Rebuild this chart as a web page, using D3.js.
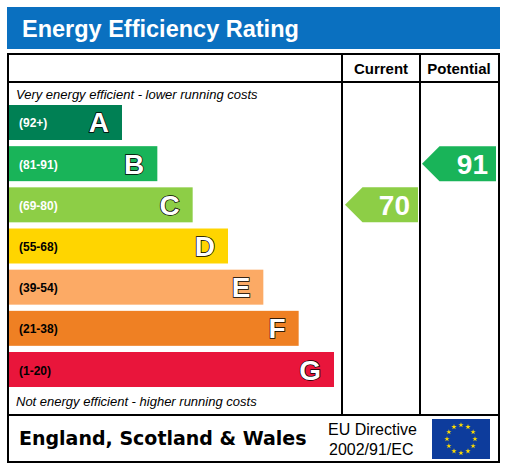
<!DOCTYPE html>
<html><head><meta charset="utf-8">
<script src="https://cdn.jsdelivr.net/npm/d3@7"></script>
<style>body{margin:0;background:#fff}</style>
</head><body><svg width="509" height="467"></svg>
<script>
var letters = ['A','B','C','D','E','F','G'];
var ranges = ['(92+)','(81-91)','(69-80)','(55-68)','(39-54)','(21-38)','(1-20)'];
var colors = ['#008054','#19b459','#8dce46','#ffd500','#fcaa65','#ef8023','#e9153b'];
var bands = [[92,100],[81,91],[69,80],[55,68],[39,54],[21,38],[1,20]];
var current = 70, potential = 91;

var svg = d3.select('svg');
var font = 'Liberation Sans, Arial, sans-serif';

// header
svg.append('rect').attr('x',7).attr('y',7).attr('width',493).attr('height',42).attr('fill','#0a70c0');
svg.append('text').attr('x',22).attr('y',37).attr('fill','#fff').attr('font-family',font)
  .attr('font-weight','bold').attr('font-size',23.5).text('Energy Efficiency Rating');

// frame
var g = svg.append('g').attr('stroke','#000').attr('stroke-width',2);
g.append('rect').attr('x',8).attr('y',54).attr('width',491).attr('height',408).attr('fill','none');
g.append('line').attr('x1',8).attr('x2',499).attr('y1',82).attr('y2',82);
g.append('line').attr('x1',8).attr('x2',499).attr('y1',415).attr('y2',415);
g.append('line').attr('x1',342).attr('x2',342).attr('y1',54).attr('y2',415);
g.append('line').attr('x1',420).attr('x2',420).attr('y1',54).attr('y2',415);

svg.append('text').attr('x',381).attr('y',74).attr('text-anchor','middle').attr('font-family',font)
  .attr('font-weight','bold').attr('font-size',15).text('Current');
svg.append('text').attr('x',459).attr('y',74).attr('text-anchor','middle').attr('font-family',font)
  .attr('font-weight','bold').attr('font-size',15).text('Potential');

svg.append('text').attr('x',16).attr('y',99).attr('font-family',font).attr('font-style','italic')
  .attr('font-size',13).text('Very energy efficient - lower running costs');
svg.append('text').attr('x',16).attr('y',406).attr('font-family',font).attr('font-style','italic')
  .attr('font-size',13).text('Not energy efficient - higher running costs');

var y = d3.scaleBand().domain(letters).range([105,387]).paddingInner(0.15).paddingOuter(0);
var w = d3.scaleLinear().domain([0,6]).range([113,325]);

var bars = svg.selectAll('.bar').data(letters).enter().append('g');
bars.append('rect').attr('x',9).attr('y',function(d){return y(d);})
  .attr('width',function(d,i){return w(i);}).attr('height',y.bandwidth())
  .attr('fill',function(d,i){return colors[i];});
bars.append('text').attr('x',19).attr('y',function(d){return y(d)+y.bandwidth()/2+5;})
  .attr('font-family',font).attr('font-weight','bold').attr('font-size',12)
  .attr('fill',function(d,i){return i<3?'#fff':'#000';}).text(function(d,i){return ranges[i];});
bars.append('text').attr('x',function(d,i){return 9+w(i)-13;}).attr('y',function(d){return y(d)+y.bandwidth()/2+10;})
  .attr('text-anchor','end').attr('font-family',font).attr('font-weight','bold').attr('font-size',28)
  .attr('fill','#fff').attr('stroke','#000').attr('stroke-width',1.5).attr('paint-order','stroke')
  .text(function(d){return d;});

function bandOf(v){ for (var i=0;i<bands.length;i++) if (v>=bands[i][0]) return i; return 6; }
function arrow(v, x0, x1){
  var i = bandOf(v), t = y(letters[i]), h = y.bandwidth();
  svg.append('path').attr('d', d3.line()([[x0,t+h/2],[x0+h/2,t],[x1,t],[x1,t+h],[x0+h/2,t+h]])+'Z')
    .attr('fill',colors[i]);
  svg.append('text').attr('x',x1-8).attr('y',t+h/2+10).attr('text-anchor','end').attr('font-family',font)
    .attr('font-weight','bold').attr('font-size',28).attr('fill','#fff').text(v);
}
arrow(current,345,418);
arrow(potential,422,496);

// footer
svg.append('text').attr('x',19).attr('y',445).attr('font-family','DejaVu Sans, sans-serif')
  .attr('font-weight','bold').attr('font-size',19).text('England, Scotland & Wales');
svg.append('text').attr('x',328).attr('y',435).attr('font-family',font).attr('font-size',16).text('EU Directive');
svg.append('text').attr('x',329).attr('y',455).attr('font-family',font).attr('font-size',16).text('2002/91/EC');
svg.append('rect').attr('x',432).attr('y',419).attr('width',58).attr('height',40).attr('fill','#0d3c9c');
var stars = d3.range(12).map(function(k){var a=k*Math.PI/6;return [461+14*Math.sin(a),439-14*Math.cos(a)];});
svg.selectAll('.star').data(stars).enter().append('path')
  .attr('d', d3.symbol(d3.symbolStar, 9)).attr('fill','#ffdd00')
  .attr('transform',function(d){return 'translate('+d[0]+','+d[1]+')';});
</script></body></html>
